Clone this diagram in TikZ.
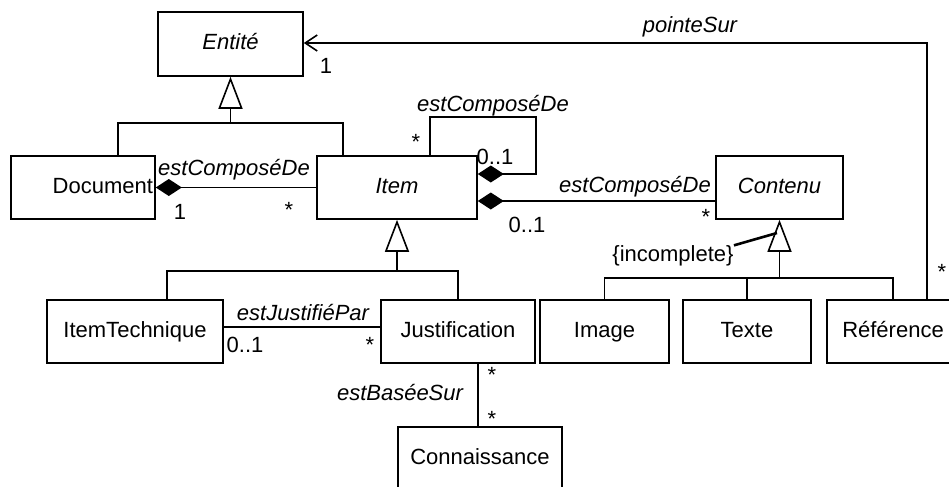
\documentclass[tikz,border=0pt]{standalone}
\usepackage{fontspec}
\setmainfont{Liberation Sans}
\usetikzlibrary{arrows.meta}

\begin{document}
\begin{tikzpicture}[x=0.5pt,y=-0.5pt,
  classe/.style={draw,line width=0.8pt,inner sep=0pt,minimum height=31.5pt,text height=8pt,text depth=2.3pt,font=\fontsize{11}{13}\selectfont},
  abstraite/.style={classe,font=\fontsize{11}{13}\selectfont\itshape},
  lien/.style={line width=0.8pt},
  heritage/.style={lien,-{Triangle[open,length=16pt,width=12pt]}},
  compo/.style={lien,{Diamond[length=13pt,width=8.5pt]}-},
  etiq/.style={font=\fontsize{11}{13}\selectfont\itshape,inner sep=0pt},
  mult/.style={font=\fontsize{11}{13}\selectfont,inner sep=0pt}]
\useasboundingbox (0,0) rectangle (949,487);
% classes
\node[abstraite,minimum width=72.5pt,minimum height=32pt] (entite) at (230.5,44) {Entité};
\node[classe,text width=70pt,align=right,inner xsep=1pt] (document) at (83,187.5) {Document};
\node[abstraite,minimum width=80pt] (item) at (397,187.5) {Item};
\node[abstraite,minimum width=63.5pt] (contenu) at (779.5,187.5) {Contenu};
\node[classe,minimum width=88pt] (itemtech) at (135,331.5) {ItemTechnique};
\node[classe,minimum width=77pt] (justif) at (458,331.5) {Justification};
\node[classe,minimum width=64.5pt] (image) at (604.5,331.5) {Image};
\node[classe,minimum width=64pt] (texte) at (747,331.5) {Texte};
\node[classe,minimum width=70pt] (reference) at (897,331.5) {\hspace*{-4pt}Référence};
\node[classe,minimum width=82pt] (connaissance) at (480,458.5) {Connaissance};
% heritage Entite
\coordinate (e0) at (230.5,123);
\coordinate (e1) at (118,123);
\coordinate (e2) at (343,123);
\draw[lien] (document.north -| e1) -- (e1) -- (e2) -- (item.north -| e2);
\draw[heritage] (e0) -- (entite);
% heritage Item
\coordinate (i0) at (397,271);
\coordinate (i1) at (167,271);
\coordinate (i2) at (458,271);
\draw[lien] (itemtech.north -| i1) -- (i1) -- (i2) -- (justif.north -| i2);
\draw[heritage] (i0) -- (item);
% heritage Contenu
\coordinate (c0) at (779.5,278);
\coordinate (c1) at (604.5,278);
\coordinate (c2) at (893,278);
\coordinate (c3) at (747,278);
\draw[lien] (image.north -| c1) -- (c1) -- (c2) -- (reference.north -| c2);
\draw[lien] (c3) -- (texte);
\draw[heritage] (c0) -- (contenu);
\node[mult] (incomplet) at (673,256) {\{incomplete\}};
\coordinate (t1) at (777,233);
\draw[line width=1.3pt] (incomplet.north east) -- (t1);
% compositions
\draw[compo] (document) -- (item);
\node[etiq] (lcompo1) at (234,170) {estComposéDe};
\node[mult] (m1) at (180,212) {1};
\node[mult] (m2) at (289,210) {*};
\coordinate (b1) at (430,117);
\coordinate (b2) at (536,117);
\coordinate (b3) at (536,174);
\draw[compo] (item.east |- b3) -- (b3) -- (b2) -- (b1) -- (item.north -| b1);
\node[etiq] (lcompo2) at (493,106) {estComposéDe};
\node[mult] (m3) at (416,142) {*};
\node[mult] (m4) at (495,157) {0..1};
\coordinate (d1) at (600,201);
\draw[compo] (item.east |- d1) -- (contenu.west |- d1);
\node[etiq] (lcompo3) at (635,187) {estComposéDe};
\node[mult] (m5) at (706,217) {*};
\node[mult] (m6) at (527,225) {0..1};
% pointeSur
\coordinate (p1) at (927,43);
\draw[lien,-{Straight Barb[length=6pt,width=8pt]}] (reference.north -| p1) -- (p1) -- (entite.east |- p1);
\node[etiq] (lpointe) at (690,27) {pointeSur};
\node[mult] (m7) at (326,66) {1};
\node[mult] (m8) at (942,272) {*};
% estJustifiePar
\coordinate (j1) at (300,327);
\draw[lien] (itemtech.east |- j1) -- (justif.west |- j1);
\node[etiq] (ljustif) at (303,313) {estJustifiéPar};
\node[mult] (m9) at (245,345) {0..1};
\node[mult] (m10) at (370,345) {*};
% estBaseeSur
\coordinate (k1) at (478,395);
\draw[lien] (justif.south -| k1) -- (connaissance.north -| k1);
\node[etiq] (lbase) at (400,393) {estBaséeSur};
\node[mult] (m11) at (492,375) {*};
\node[mult] (m12) at (492,419) {*};
\end{tikzpicture}
\end{document}
